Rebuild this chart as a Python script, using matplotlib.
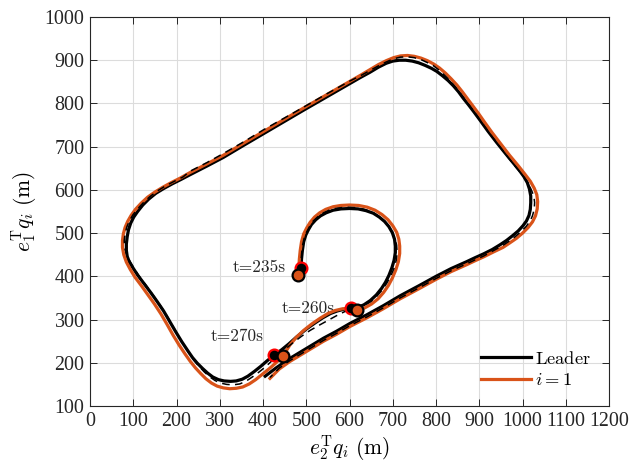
import matplotlib.pyplot as plt

plt.rcParams['mathtext.fontset'] = 'cm'
plt.rcParams['font.family'] = ['Liberation Serif', 'DejaVu Serif']

# leader trajectory (x = e2'q, y = e1'q), from t=235s on
leader = [
    (488, 420), (489, 440), (491, 460), (494, 480), (499, 496), (505, 508), (512, 520),
    (522, 531), (533, 540), (546, 547), (562, 553), (580, 556), (600, 557), (620, 556),
    (638, 552), (655, 546), (669, 537), (681, 527), (691, 515), (699, 501), (704, 486),
    (706, 470), (706, 455), (703, 437), (698, 420), (691, 402), (683, 386), (674, 372),
    (662, 357), (648, 344), (633, 334), (618, 328), (603, 326),
    (588, 324), (572, 320), (556, 314), (538, 304), (520, 292), (500, 278), (478, 260),
    (460, 244), (443, 230), (426, 218),
    (410, 205), (395, 192), (380, 180), (365, 169), (352, 162), (338, 158), (325, 157),
    (310, 158), (297, 161), (284, 167), (272, 176), (260, 187), (248, 199), (237, 212),
    (226, 228), (212, 249), (198, 272), (184, 296), (170, 320), (155, 342), (140, 363),
    (125, 383), (110, 403), (99, 420), (91, 433), (86, 446), (84, 460), (84, 475),
    (86, 492), (89, 508), (94, 523), (101, 537), (110, 550), (122, 565), (136, 579),
    (152, 592), (170, 603), (190, 614), (210, 624), (231, 635), (270, 655), (308, 675),
    (355, 703), (401, 730), (447, 757), (493, 784), (547, 815), (601, 846), (625, 860),
    (647, 872), (667, 884), (685, 893), (700, 898), (715, 900), (730, 900), (745, 898),
    (760, 894), (775, 888), (790, 881), (802, 874), (815, 864), (828, 853), (840, 841),
    (852, 827), (863, 812), (875, 797), (888, 780), (902, 761), (920, 736), (940, 710),
    (960, 685), (979, 662), (992, 646), (1003, 631), (1011, 617), (1016, 602), (1019, 586),
    (1019, 570), (1018, 555), (1015, 541), (1009, 528), (1001, 517), (990, 505), (977, 494),
    (963, 483), (948, 473), (930, 462), (910, 452), (890, 443), (871, 434), (835, 418),
    (800, 400), (760, 378), (717, 355), (678, 332), (640, 311), (601, 291), (570, 273),
    (540, 257), (500, 233), (462, 210), (430, 188), (405, 169),
]

# follower i=1 trajectory
follower = [
    (482, 403), (483, 420), (484, 440), (486, 460), (489, 480), (494, 498), (501, 512),
    (509, 525), (519, 537), (531, 547), (545, 555), (562, 561), (580, 564), (600, 565),
    (621, 564), (641, 560), (659, 553), (675, 543), (689, 531), (700, 517), (709, 502),
    (714, 486), (716, 470), (716, 453), (713, 434), (707, 415), (699, 396), (690, 379),
    (679, 363), (666, 348), (651, 336), (635, 327), (618, 322),
    (600, 325), (584, 325), (567, 321), (550, 314), (532, 303), (513, 290), (494, 275),
    (476, 258), (462, 241), (454, 228), (447, 216),
    (430, 200), (414, 186), (398, 173), (383, 161), (368, 151), (353, 144), (338, 141),
    (323, 140), (308, 142), (294, 146), (281, 153), (268, 163), (256, 175), (244, 188),
    (232, 203), (220, 220), (206, 241), (192, 264), (178, 289), (164, 313), (149, 336),
    (134, 357), (119, 378), (104, 398), (93, 416), (84, 433), (78, 450), (75, 467),
    (75, 483), (77, 498), (81, 513), (87, 527), (95, 541), (105, 555), (118, 569),
    (133, 583), (150, 595), (168, 606), (188, 617), (208, 627), (231, 640), (270, 660),
    (308, 680), (355, 708), (401, 735), (447, 762), (493, 789), (547, 820), (601, 851),
    (625, 865), (647, 878), (667, 890), (685, 899), (702, 906), (718, 910), (734, 911),
    (750, 909), (765, 905), (780, 899), (795, 891), (808, 882), (822, 870), (835, 857),
    (848, 843), (860, 828), (872, 812), (885, 795), (898, 777), (912, 757), (930, 732),
    (950, 706), (970, 680), (990, 656), (1005, 637), (1018, 620), (1027, 604), (1033, 589),
    (1035, 573), (1034, 556), (1030, 540), (1023, 526), (1013, 513), (1000, 500), (986, 488),
    (970, 477), (955, 467), (932, 456), (910, 445), (890, 436), (871, 427), (835, 411),
    (800, 393), (760, 371), (717, 348), (678, 325), (640, 304), (601, 284), (570, 266),
    (540, 250), (500, 226), (462, 203), (438, 186), (416, 164),
]

# desired follower trajectory (dashed)
reference = [
    (486, 412), (487, 430), (489, 450), (491, 470), (495, 488), (501, 503), (508, 516),
    (516, 528), (527, 538), (540, 547), (555, 554), (573, 558), (593, 560), (612, 559),
    (631, 556), (649, 550), (664, 541), (678, 530), (689, 518), (698, 503), (705, 488),
    (709, 472), (710, 455), (708, 437), (703, 419), (695, 400), (686, 384), (676, 369),
    (664, 355), (650, 342), (634, 333), (618, 327),
    (603, 323), (588, 318), (570, 309), (550, 298), (530, 287), (509, 275), (490, 262),
    (470, 247), (452, 232), (436, 218),
    (420, 204), (405, 190), (390, 178), (375, 167), (360, 157), (346, 151), (331, 149),
    (316, 150), (302, 153), (289, 159), (276, 168), (264, 179), (252, 192), (240, 206),
    (229, 222), (216, 243), (202, 266), (188, 291), (174, 315), (159, 338), (144, 359),
    (129, 380), (114, 400), (102, 418), (93, 434), (85, 450), (80, 466), (79, 482),
    (81, 498), (85, 514), (91, 528), (99, 542), (110, 556), (123, 570), (138, 584),
    (155, 597), (174, 609), (195, 620), (215, 630), (231, 643), (270, 663), (308, 684),
    (355, 711), (401, 739), (447, 765), (493, 791), (547, 822), (601, 852), (625, 864),
    (647, 876), (667, 887), (685, 896), (701, 903), (717, 907), (733, 908), (749, 906),
    (764, 902), (779, 895), (793, 888), (806, 878), (819, 866), (832, 853), (844, 839),
    (856, 824), (868, 808), (881, 791), (894, 773), (908, 753), (926, 728), (946, 702),
    (966, 676), (986, 651), (1000, 634), (1012, 617), (1020, 601), (1026, 586), (1028, 571),
    (1027, 555), (1023, 540), (1017, 527), (1008, 515), (996, 503), (982, 491), (967, 480),
    (952, 470), (930, 458), (910, 447), (890, 438), (871, 429), (835, 413), (800, 395),
    (760, 373), (717, 350), (678, 327), (640, 306), (601, 286), (570, 268), (540, 252),
    (500, 228), (462, 205), (438, 188), (416, 166),
]

# positions at the labelled instants
t_labels = ['t=235s', 't=260s', 't=270s']
lead_marks = [(488, 420), (603, 326), (426, 218)]
foll_marks = [(482, 403), (618, 322), (447, 216)]
label_pos = [(452, 420), (567, 327), (402, 262)]

fig = plt.figure(figsize=(6.3, 4.67), dpi=100)
ax = fig.add_axes([0.1429, 0.1306, 0.8238, 0.833])

ax.plot(*zip(*leader), color='k', lw=2.3, label=r'$\mathrm{Leader}$', zorder=3)
ax.plot(*zip(*follower), color='#D95319', lw=2.3, label=r'$i=1$', zorder=4)
ax.plot(*zip(*reference), color='k', lw=1.1, ls=(0, (5, 3.5)), zorder=5)

ax.plot(*zip(*lead_marks), 'o', ms=8.5, mfc='k', mec='r', mew=1.6, ls='none', zorder=6)
ax.plot(*zip(*foll_marks), 'o', ms=8.5, mfc='#D95319', mec='k', mew=1.6, ls='none', zorder=7)
for (lx, ly), s in zip(label_pos, t_labels):
    ax.text(lx, ly, s, family='cmr10', fontsize=12.5, ha='right', va='center',
            color='#262626')

ax.set_xlim(0, 1200)
ax.set_ylim(100, 1000)
ax.set_xticks(range(0, 1201, 100))
ax.set_yticks(range(100, 1001, 100))
ax.tick_params(direction='in', length=5, width=0.7, top=True, right=True,
               labelsize=14.4, colors='#262626', pad=4)
ax.grid(True, color='#dcdcdc', lw=0.8)
ax.set_axisbelow(True)
for sp in ax.spines.values():
    sp.set_linewidth(0.8)
    sp.set_color('#262626')

ax.set_xlabel(r'$e_2^{\mathrm{T}} q_i\ (\mathrm{m})$', fontsize=15.5, labelpad=2)
ax.set_ylabel(r'$e_1^{\mathrm{T}} q_i\ (\mathrm{m})$', fontsize=15.5, labelpad=4)

ax.legend(loc='lower right', frameon=False, fontsize=13.3, handlelength=2.7,
          handletextpad=0.2, labelspacing=0.25, borderaxespad=0.3,
          bbox_to_anchor=(0.99, 0.01))

fig.savefig('out.png', dpi=100)
